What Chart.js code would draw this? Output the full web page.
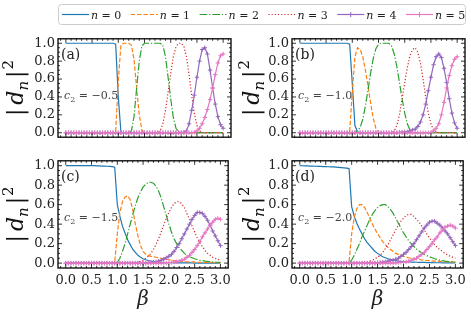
<!DOCTYPE html>
<html>
<head>
<meta charset="utf-8">
<script src="https://cdn.jsdelivr.net/npm/chart.js@4.4.1/dist/chart.umd.min.js"></script>
<style>
  body { margin: 0; background: #fff; width: 471px; height: 313px; position: relative; overflow: hidden; }
  canvas { position: absolute; }
</style>
</head>
<body>
<canvas id="legend" width="471" height="28" style="left:0px;top:0px"></canvas>
<canvas id="pa" width="236" height="120" style="left:0px;top:28px"></canvas>
<canvas id="pb" width="235" height="120" style="left:236px;top:28px"></canvas>
<canvas id="pc" width="236" height="163" style="left:0px;top:150px"></canvas>
<canvas id="pd" width="235" height="163" style="left:236px;top:150px"></canvas>
<script>
const beta = [0,0.05,0.1,0.15,0.2,0.25,0.3,0.35,0.4,0.45,0.5,0.55,0.6,0.65,0.7,0.75,0.8,0.85,0.9,0.95,
  1,1.05,1.1,1.15,1.2,1.25,1.3,1.35,1.4,1.45,1.5,1.55,1.6,1.65,1.7,1.75,1.8,1.85,1.9,1.95,
  2,2.05,2.1,2.15,2.2,2.25,2.3,2.35,2.4,2.45,2.5,2.55,2.6,2.65,2.7,2.75,2.8,2.85,2.9,2.95,3];
const nLabels = ['0', '1', '2', '3', '4', '5'];
const xTicks = [0, 0.5, 1.0, 1.5, 2.0, 2.5, 3.0];
const yTicks = [0, 0.2, 0.4, 0.6, 0.8, 1.0];

// (a) c2 = -0.5
const a0 = [1,1,1,1,1,1,1,1,1,1, 1,1,1,1,1,1,1,1,1,0.99, 0.4,0.01,0,0,0,0,0,0,0,0, 0,0,0,0,0,0,0,0,0,0, 0,0,0,0,0,0,0,0,0,0, 0,0,0,0,0,0,0,0,0,0, 0];
const a1 = [0,0,0,0,0,0,0,0,0,0, 0,0,0,0,0,0,0,0,0,0.01, 0.58,0.98,1,1,1,0.98,0.82,0.5,0.2,0.03, 0,0,0,0,0,0,0,0,0,0, 0,0,0,0,0,0,0,0,0,0, 0,0,0,0,0,0,0,0,0,0, 0];
const a2 = [0,0,0,0,0,0,0,0,0,0, 0,0,0,0,0,0,0,0,0,0, 0,0,0,0,0,0.02,0.18,0.5,0.8,0.97, 1,1,1,1,1,1,1,0.98,0.85,0.62, 0.38,0.17,0.05,0.01,0,0,0,0,0,0, 0,0,0,0,0,0,0,0,0,0, 0];
const a3 = [0,0,0,0,0,0,0,0,0,0, 0,0,0,0,0,0,0,0,0,0, 0,0,0,0,0,0,0,0,0,0, 0,0,0,0,0,0,0.02,0.1,0.25,0.45, 0.66,0.85,0.96,1,1,0.97,0.85,0.65,0.42,0.22, 0.08,0.02,0,0,0,0,0,0,0,0, 0];
const a4 = [0,0,0,0,0,0,0,0,0,0, 0,0,0,0,0,0,0,0,0,0, 0,0,0,0,0,0,0,0,0,0, 0,0,0,0,0,0,0,0,0,0, 0,0,0,0,0,0.005,0.02,0.1,0.25,0.42, 0.62,0.8,0.93,0.95,0.88,0.7,0.5,0.32,0.18,0.09, 0.05];
const a5 = [0,0,0,0,0,0,0,0,0,0, 0,0,0,0,0,0,0,0,0,0, 0,0,0,0,0,0,0,0,0,0, 0,0,0,0,0,0,0,0,0,0, 0,0,0,0,0,0,0,0,0,0.005, 0.02,0.05,0.1,0.17,0.26,0.37,0.5,0.65,0.78,0.86, 0.88];

// (b) c2 = -1.0
const b0 = [1,1,1,1,1,1,1,1,1,1, 1,1,1,1,1,1,1,1,1,0.99, 0.55,0.08,0.01,0,0,0,0,0,0,0, 0,0,0,0,0,0,0,0,0,0, 0,0,0,0,0,0,0,0,0,0, 0,0,0,0,0,0,0,0,0,0, 0];
const b1 = [0,0,0,0,0,0,0,0,0,0, 0,0,0,0,0,0,0,0,0,0.01, 0.45,0.85,0.95,0.93,0.85,0.7,0.52,0.33,0.16,0.05, 0.01,0,0,0,0,0,0,0,0,0, 0,0,0,0,0,0,0,0,0,0, 0,0,0,0,0,0,0,0,0,0, 0];
const b2 = [0,0,0,0,0,0,0,0,0,0, 0,0,0,0,0,0,0,0,0,0, 0,0.005,0.02,0.06,0.15,0.3,0.48,0.67,0.83,0.94, 0.99,1,1,1,1,0.97,0.88,0.74,0.56,0.38, 0.22,0.1,0.03,0.01,0,0,0,0,0,0, 0,0,0,0,0,0,0,0,0,0, 0];
const b3 = [0,0,0,0,0,0,0,0,0,0, 0,0,0,0,0,0,0,0,0,0, 0,0,0,0,0,0,0,0,0,0, 0,0,0,0,0,0,0.02,0.08,0.2,0.38, 0.56,0.73,0.86,0.93,0.95,0.9,0.78,0.6,0.4,0.22, 0.1,0.03,0.01,0,0,0,0,0,0,0, 0];
const b4 = [0,0,0,0,0,0,0,0,0,0, 0,0,0,0,0,0,0,0,0,0, 0,0,0,0,0,0,0,0,0,0, 0,0,0,0,0,0,0,0,0.005,0.005, 0.01,0.01,0.02,0.03,0.04,0.07,0.12,0.2,0.32,0.47, 0.62,0.76,0.85,0.88,0.84,0.72,0.56,0.38,0.22,0.11, 0.05];
const b5 = [0,0,0,0,0,0,0,0,0,0, 0,0,0,0,0,0,0,0,0,0, 0,0,0,0,0,0,0,0,0,0, 0,0,0,0,0,0,0,0,0,0, 0,0,0,0,0,0,0,0,0,0, 0.005,0.02,0.05,0.1,0.2,0.34,0.5,0.64,0.75,0.82, 0.85];

// (c) c2 = -1.5
const c0 = [1,1,1,1,1,1,1,1,1,1, 1,1,0.998,0.997,0.996,0.995,0.994,0.993,0.99,0.985, 0.6,0.48,0.38,0.31,0.24,0.19,0.14,0.11,0.08,0.06, 0.045,0.035,0.027,0.02,0.015,0.012,0.01,0.008,0.006,0.005, 0.004,0.004,0.003,0.003,0.003,0.002,0.002,0.002,0.002,0.002, 0.001,0.001,0.001,0.001,0.001,0.001,0.001,0.001,0.001,0.001, 0.001];
const c1 = [0,0,0,0,0,0,0,0,0,0, 0,0,0,0,0,0,0,0,0,0.01, 0.3,0.52,0.63,0.68,0.69,0.65,0.55,0.4,0.28,0.18, 0.12,0.09,0.08,0.07,0.065,0.06,0.055,0.05,0.045,0.04, 0.035,0.03,0.027,0.024,0.02,0.018,0.016,0.014,0.013,0.012, 0.011,0.01,0.009,0.008,0.008,0.007,0.007,0.006,0.006,0.005, 0.005];
const c2 = [0,0,0,0,0,0,0,0,0,0, 0,0,0,0,0,0,0,0,0,0, 0.01,0.05,0.12,0.2,0.3,0.4,0.5,0.59,0.67,0.73, 0.78,0.81,0.83,0.83,0.82,0.79,0.74,0.67,0.58,0.49, 0.4,0.32,0.25,0.2,0.16,0.13,0.1,0.08,0.065,0.055, 0.045,0.037,0.03,0.025,0.02,0.017,0.015,0.012,0.01,0.009, 0.008];
const c3 = [0,0,0,0,0,0,0,0,0,0, 0,0,0,0,0,0,0,0,0,0, 0,0,0,0,0,0,0,0.005,0.01,0.02, 0.03,0.05,0.07,0.1,0.14,0.19,0.25,0.32,0.39,0.46, 0.52,0.57,0.61,0.63,0.63,0.61,0.57,0.51,0.45,0.38, 0.32,0.26,0.21,0.17,0.13,0.1,0.08,0.06,0.05,0.04, 0.03];
const c4 = [0,0,0,0,0,0,0,0,0,0, 0,0,0,0,0,0,0,0,0,0, 0,0,0,0,0,0,0,0,0,0, 0,0,0.005,0.005,0.01,0.013,0.02,0.03,0.04,0.055, 0.07,0.09,0.12,0.16,0.2,0.25,0.3,0.35,0.4,0.45, 0.49,0.52,0.52,0.51,0.48,0.44,0.39,0.33,0.28,0.23, 0.18];
const c5 = [0,0,0,0,0,0,0,0,0,0, 0,0,0,0,0,0,0,0,0,0, 0,0,0,0,0,0,0,0,0,0, 0,0,0,0,0,0,0,0,0.002,0.003, 0.005,0.007,0.01,0.015,0.02,0.03,0.04,0.06,0.08,0.11, 0.14,0.18,0.22,0.27,0.31,0.35,0.39,0.42,0.45,0.46, 0.45];

// (d) c2 = -2.0
const d0 = [1,0.999,0.998,0.997,0.996,0.995,0.994,0.993,0.992,0.991, 0.99,0.989,0.988,0.987,0.985,0.983,0.98,0.977,0.974,0.97, 0.58,0.48,0.41,0.35,0.3,0.25,0.21,0.18,0.15,0.12, 0.1,0.08,0.065,0.055,0.045,0.037,0.03,0.025,0.02,0.017, 0.015,0.013,0.012,0.011,0.01,0.009,0.008,0.007,0.007,0.006, 0.005,0.005,0.004,0.004,0.004,0.003,0.003,0.003,0.002,0.002, 0.002];
const d1 = [0,0,0,0,0,0,0,0,0,0, 0,0,0,0,0,0,0,0,0,0.01, 0.3,0.47,0.56,0.6,0.6,0.57,0.52,0.46,0.4,0.35, 0.3,0.26,0.22,0.19,0.16,0.14,0.12,0.1,0.09,0.08, 0.07,0.062,0.055,0.05,0.045,0.041,0.037,0.033,0.03,0.027, 0.025,0.023,0.021,0.02,0.018,0.017,0.016,0.015,0.013,0.012, 0.01];
const d2 = [0,0,0,0,0,0,0,0,0,0, 0,0,0,0,0,0,0,0,0,0.005, 0.03,0.08,0.14,0.2,0.27,0.33,0.39,0.45,0.5,0.54, 0.57,0.59,0.6,0.6,0.58,0.55,0.51,0.46,0.41,0.36, 0.31,0.27,0.23,0.2,0.17,0.145,0.125,0.105,0.09,0.077, 0.065,0.055,0.045,0.037,0.03,0.025,0.02,0.017,0.015,0.012, 0.01];
const d3 = [0,0,0,0,0,0,0,0,0,0, 0,0,0,0,0,0,0,0,0,0, 0,0,0,0,0.002,0.005,0.01,0.02,0.03,0.045, 0.06,0.08,0.11,0.15,0.19,0.24,0.29,0.34,0.39,0.43, 0.46,0.49,0.5,0.5,0.48,0.45,0.42,0.38,0.34,0.3, 0.26,0.22,0.19,0.16,0.14,0.12,0.1,0.085,0.07,0.06, 0.05];
const d4 = [0,0,0,0,0,0,0,0,0,0, 0,0,0,0,0,0,0,0,0,0, 0,0,0,0,0,0,0,0,0,0, 0.005,0.007,0.01,0.013,0.02,0.025,0.03,0.04,0.05,0.07, 0.09,0.11,0.14,0.17,0.2,0.24,0.28,0.32,0.36,0.39, 0.42,0.43,0.43,0.41,0.39,0.36,0.33,0.3,0.26,0.22, 0.18];
const d5 = [0,0,0,0,0,0,0,0,0,0, 0,0,0,0,0,0,0,0,0,0, 0,0,0,0,0,0,0,0,0,0, 0,0,0,0,0,0,0.002,0.003,0.005,0.007, 0.01,0.013,0.02,0.03,0.04,0.05,0.07,0.09,0.11,0.14, 0.17,0.2,0.24,0.27,0.31,0.34,0.37,0.38,0.39,0.38, 0.36];

const colors = ['#1f77b4', '#ff7f0e', '#2ca02c', '#d62728', '#9467bd', '#e377c2'];
const dashes = [[], [4.4, 1.9], [7.7, 1.9, 1.2, 1.9], [1.2, 2], [], []];
const markers = [false, false, false, false, 'cross', 'cross'];
const SERIF = '"DejaVu Serif", serif';

function makeDatasets(series) {
  return series.map((vals, i) => ({
    label: 'n = ' + nLabels[i],
    data: beta.map((b, k) => ({ x: b, y: vals[k] })),
    borderColor: colors[i],
    backgroundColor: colors[i],
    borderWidth: 1.2,
    borderDash: dashes[i],
    tension: 0,
    order: 5 - i,
    pointStyle: markers[i] || 'circle',
    pointRadius: markers[i] ? 2.2 : 0,
    pointBorderWidth: 1,
    pointBorderColor: colors[i]
  }));
}

function drawYLabel(ctx, cx, cy) {
  const parts = [
    ['|', '22px ' + SERIF, 0, 4],
    ['d', 'italic 22px ' + SERIF, 0, 0],
    ['n', 'italic 15px ' + SERIF, 5, 3],
    ['|', '22px ' + SERIF, 0, 1],
    ['2', '15px ' + SERIF, -10, 0]
  ];
  ctx.save();
  ctx.translate(cx, cy);
  ctx.rotate(-Math.PI / 2);
  ctx.fillStyle = '#111';
  let w = 0;
  parts.forEach(p => { ctx.font = p[1]; w += ctx.measureText(p[0]).width + p[3]; });
  let u = -w / 2;
  parts.forEach(p => {
    ctx.font = p[1];
    ctx.fillText(p[0], u, 6 + p[2]);
    u += ctx.measureText(p[0]).width + p[3];
  });
  ctx.restore();
}

function framePlugin(tag, c2text) {
  return {
    id: 'frame',
    afterDatasetsDraw(chart) {
      const { ctx, chartArea: a, scales: { x, y } } = chart;
      ctx.save();
      ctx.strokeStyle = '#000';
      ctx.lineWidth = 0.8;
      ctx.beginPath();
      for (let k = -1; k <= 31; k++) {
        const px = x.getPixelForValue(k / 10);
        if (px <= a.left || px >= a.right) continue;
        const len = k % 5 === 0 ? 4 : 2;
        ctx.moveTo(px, a.bottom); ctx.lineTo(px, a.bottom - len);
        ctx.moveTo(px, a.top); ctx.lineTo(px, a.top + len);
      }
      for (let k = -1; k <= 21; k++) {
        const py = y.getPixelForValue(k / 20);
        if (py <= a.top || py >= a.bottom) continue;
        const len = k % 4 === 0 ? 4 : 2;
        ctx.moveTo(a.left, py); ctx.lineTo(a.left + len, py);
        ctx.moveTo(a.right, py); ctx.lineTo(a.right - len, py);
      }
      ctx.stroke();
      ctx.lineWidth = 1.3;
      ctx.strokeRect(a.left, a.top, a.right - a.left, a.bottom - a.top);

      ctx.fillStyle = '#222';
      ctx.font = '14px ' + SERIF;
      ctx.textBaseline = 'alphabetic';
      ctx.fillText(tag, a.left + 3, a.top + 20);

      ctx.fillStyle = '#444';
      let tx = a.left + 6;
      const ty = a.top + 60;
      ctx.font = 'italic 11px ' + SERIF;
      ctx.fillText('c', tx, ty);
      tx += ctx.measureText('c').width;
      ctx.font = '8px ' + SERIF;
      ctx.fillText('2', tx, ty + 3);
      tx += ctx.measureText('2').width;
      ctx.font = '11px ' + SERIF;
      ctx.fillText(' = ' + c2text, tx, ty);

      drawYLabel(ctx, 17, (a.top + a.bottom) / 2);
      ctx.restore();
    }
  };
}

function makePanel(id, series, tag, c2text, opt) {
  new Chart(document.getElementById(id), {
    type: 'line',
    data: { datasets: makeDatasets(series) },
    options: {
      responsive: false,
      animation: false,
      devicePixelRatio: 1,
      layout: { padding: { top: opt.top, right: opt.right, bottom: opt.bottom, left: 0 } },
      plugins: { legend: { display: false }, tooltip: { enabled: false } },
      scales: {
        x: {
          type: 'linear',
          min: -0.15,
          max: 3.15,
          display: opt.showX,
          grid: { display: false, drawTicks: false },
          border: { display: false },
          afterBuildTicks: s => { s.ticks = xTicks.map(v => ({ value: v })); },
          afterFit: s => { s.height = opt.showX ? 45 : 0; },
          ticks: {
            padding: 5,
            color: '#222',
            font: { family: SERIF, size: 13 },
            maxRotation: 0,
            callback: v => Number(v).toFixed(1)
          },
          title: {
            display: true,
            text: 'β',
            color: '#222',
            font: { family: SERIF, size: 20, style: 'italic' },
            padding: { top: 0, bottom: 1 }
          }
        },
        y: {
          type: 'linear',
          min: -0.05,
          max: 1.05,
          grid: { display: false, drawTicks: false },
          border: { display: false },
          afterBuildTicks: s => { s.ticks = yTicks.map(v => ({ value: v })); },
          afterFit: s => { s.width = opt.yWidth; },
          ticks: {
            padding: 3,
            color: '#222',
            font: { family: SERIF, size: 13 },
            callback: v => Number(v).toFixed(1)
          }
        }
      }
    },
    plugins: [framePlugin(tag, c2text)]
  });
}

makePanel('pa', [a0, a1, a2, a3, a4, a5], '(a)', '−0.5', { top: 4, right: 4, bottom: 2, yWidth: 58, showX: false });
makePanel('pb', [b0, b1, b2, b3, b4, b5], '(b)', '−1.0', { top: 4, right: 6, bottom: 2, yWidth: 56, showX: false });
makePanel('pc', [c0, c1, c2, c3, c4, c5], '(c)', '−1.5', { top: 5, right: 4, bottom: 0, yWidth: 58, showX: true });
makePanel('pd', [d0, d1, d2, d3, d4, d5], '(d)', '−2.0', { top: 5, right: 6, bottom: 0, yWidth: 56, showX: true });

const legendPlugin = {
  id: 'legendBox',
  afterDraw(chart) {
    const ctx = chart.ctx;
    ctx.save();
    ctx.strokeStyle = '#cccccc';
    ctx.lineWidth = 1;
    ctx.beginPath();
    ctx.roundRect(58.5, 4.5, 407, 20, 3);
    ctx.stroke();
    chart.data.datasets.forEach((ds, i) => {
      const x0 = 62 + i * 68.8, y0 = 14.5;
      ctx.strokeStyle = ds.borderColor;
      ctx.lineWidth = 1.2;
      ctx.setLineDash(ds.borderDash);
      ctx.beginPath();
      ctx.moveTo(x0, y0);
      ctx.lineTo(x0 + 27, y0);
      ctx.stroke();
      ctx.setLineDash([]);
      if (markers[i]) {
        ctx.lineWidth = 1;
        ctx.beginPath();
        ctx.moveTo(x0 + 13.5, y0 - 2.5); ctx.lineTo(x0 + 13.5, y0 + 2.5);
        ctx.stroke();
      }
      ctx.fillStyle = '#222';
      ctx.textBaseline = 'alphabetic';
      let tx = x0 + 29;
      ctx.font = 'italic 11px ' + SERIF;
      ctx.fillText('n', tx, 18.5);
      tx += ctx.measureText('n').width;
      ctx.font = '11px ' + SERIF;
      ctx.fillText(' = ' + nLabels[i], tx, 18.5);
    });
    ctx.restore();
  }
};

new Chart(document.getElementById('legend'), {
  type: 'line',
  data: { datasets: makeDatasets([[], [], [], [], [], []]) },
  options: {
    responsive: false,
    animation: false,
    devicePixelRatio: 1,
    plugins: { legend: { display: false }, tooltip: { enabled: false } },
    scales: { x: { display: false }, y: { display: false } }
  },
  plugins: [legendPlugin]
});
</script>
</body>
</html>
